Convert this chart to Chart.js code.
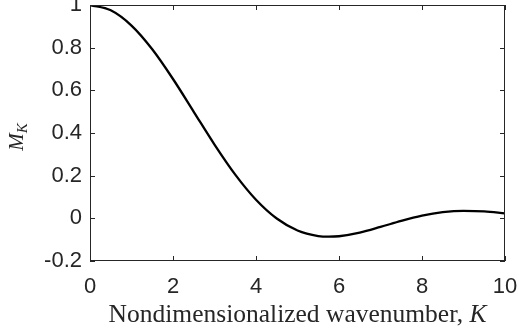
<!DOCTYPE html>
<html lang="en">
<head>
    <meta charset="UTF-8">
    <title>M_K vs K</title>
    <script src="https://cdn.jsdelivr.net/npm/chart.js@4/dist/chart.umd.min.js"></script>
    <style>
        body { margin: 0; background: #ffffff; }
        #wrap { width: 519px; height: 334px; }
    </style>
</head>
<body>
    <div id="wrap"><canvas id="chart" width="519" height="334"></canvas></div>
    <script>
        // values
        const kValues = [0, 0.5, 1, 1.5, 2, 2.5, 3, 3.5, 4, 4.5, 5, 5.5, 5.75, 6, 6.5, 7, 7.5, 8, 8.5, 9, 9.5, 10];
        const mValues = [1, 0.975, 0.9035, 0.7924, 0.6531, 0.4995, 0.3457, 0.2048, 0.0871, -0.001, -0.0571, -0.083, -0.0862, -0.0839, -0.067, -0.0404, -0.0118, 0.0126, 0.0289, 0.0354, 0.0329, 0.0235];
        const xTicks = [0, 2, 4, 6, 8, 10];
        const yTicks = [-0.2, 0, 0.2, 0.4, 0.6, 0.8, 1];

        const axisColor = '#262626';
        const tickFont = { family: "'Liberation Sans', Arial, sans-serif", size: 22 };
        const serif = "'Liberation Serif', 'Times New Roman', serif";

        // inward ticks on all four sides + box + axis titles
        const framePlugin = {
            id: 'frame',
            afterDraw(chart) {
                const ctx = chart.ctx;
                const a = chart.chartArea;
                const xs = chart.scales.x, ys = chart.scales.y;
                ctx.save();
                ctx.strokeStyle = axisColor;
                ctx.lineWidth = 1;
                ctx.strokeRect(a.left + 0.5, a.top + 0.5, a.right - a.left - 1, a.bottom - a.top - 1);
                ctx.beginPath();
                xTicks.forEach(function (t) {
                    const px = Math.round(xs.getPixelForValue(t)) + 0.5;
                    ctx.moveTo(px, a.bottom); ctx.lineTo(px, a.bottom - 5);
                    ctx.moveTo(px, a.top); ctx.lineTo(px, a.top + 5);
                });
                yTicks.forEach(function (t) {
                    const py = Math.round(ys.getPixelForValue(t)) + 0.5;
                    ctx.moveTo(a.left, py); ctx.lineTo(a.left + 5, py);
                    ctx.moveTo(a.right, py); ctx.lineTo(a.right - 5, py);
                });
                ctx.stroke();

                // x title
                ctx.fillStyle = axisColor;
                ctx.textBaseline = 'alphabetic';
                ctx.textAlign = 'left';
                const part1 = 'Nondimensionalized wavenumber, ';
                ctx.font = '25.5px ' + serif;
                const w1 = ctx.measureText(part1).width;
                ctx.font = 'italic 25.5px ' + serif;
                const w2 = ctx.measureText('K').width;
                const sx = (a.left + a.right) / 2 - (w1 + w2) / 2;
                ctx.font = '25.5px ' + serif;
                ctx.fillText(part1, sx, 322);
                ctx.font = 'italic 25.5px ' + serif;
                ctx.fillText('K', sx + w1, 322);

                // y title, rotated
                ctx.translate(23, 137);
                ctx.rotate(-Math.PI / 2);
                ctx.font = 'italic 21px ' + serif;
                const wm = ctx.measureText('M').width;
                ctx.font = 'italic 15px ' + serif;
                const wk = ctx.measureText('K').width;
                const ox = -(wm + wk) / 2;
                ctx.font = 'italic 21px ' + serif;
                ctx.fillText('M', ox, 0);
                ctx.font = 'italic 15px ' + serif;
                ctx.fillText('K', ox + wm, 4);
                ctx.restore();
            }
        };

        new Chart(document.getElementById('chart'), {
            type: 'line',
            data: {
                datasets: [{
                    data: kValues.map(function (k, i) { return { x: k, y: mValues[i] }; }),
                    borderColor: '#000000',
                    borderWidth: 2.3,
                    pointRadius: 0,
                    fill: false,
                    cubicInterpolationMode: 'monotone'
                }]
            },
            options: {
                responsive: false,
                animation: false,
                layout: { padding: { top: 5, right: 14, left: 0, bottom: 0 } },
                plugins: { legend: { display: false }, tooltip: { enabled: false } },
                scales: {
                    x: {
                        type: 'linear',
                        min: 0, max: 10,
                        grid: { display: false, drawTicks: false },
                        border: { display: false },
                        afterBuildTicks(s) { s.ticks = xTicks.map(function (v) { return { value: v }; }); },
                        afterFit(s) { s.height = 73; s.paddingLeft = 0; s.paddingRight = 0; },
                        ticks: { color: axisColor, font: tickFont, padding: 13, maxRotation: 0 }
                    },
                    y: {
                        type: 'linear',
                        min: -0.2, max: 1,
                        grid: { display: false, drawTicks: false },
                        border: { display: false },
                        afterBuildTicks(s) { s.ticks = yTicks.map(function (v) { return { value: v }; }); },
                        afterFit(s) { s.width = 90; s.paddingTop = 0; s.paddingBottom = 0; },
                        ticks: {
                            color: axisColor, font: tickFont, padding: 8,
                            callback: function (v) { return String(Math.round(v * 10) / 10); }
                        }
                    }
                }
            },
            plugins: [framePlugin]
        });
    </script>
</body>
</html>
